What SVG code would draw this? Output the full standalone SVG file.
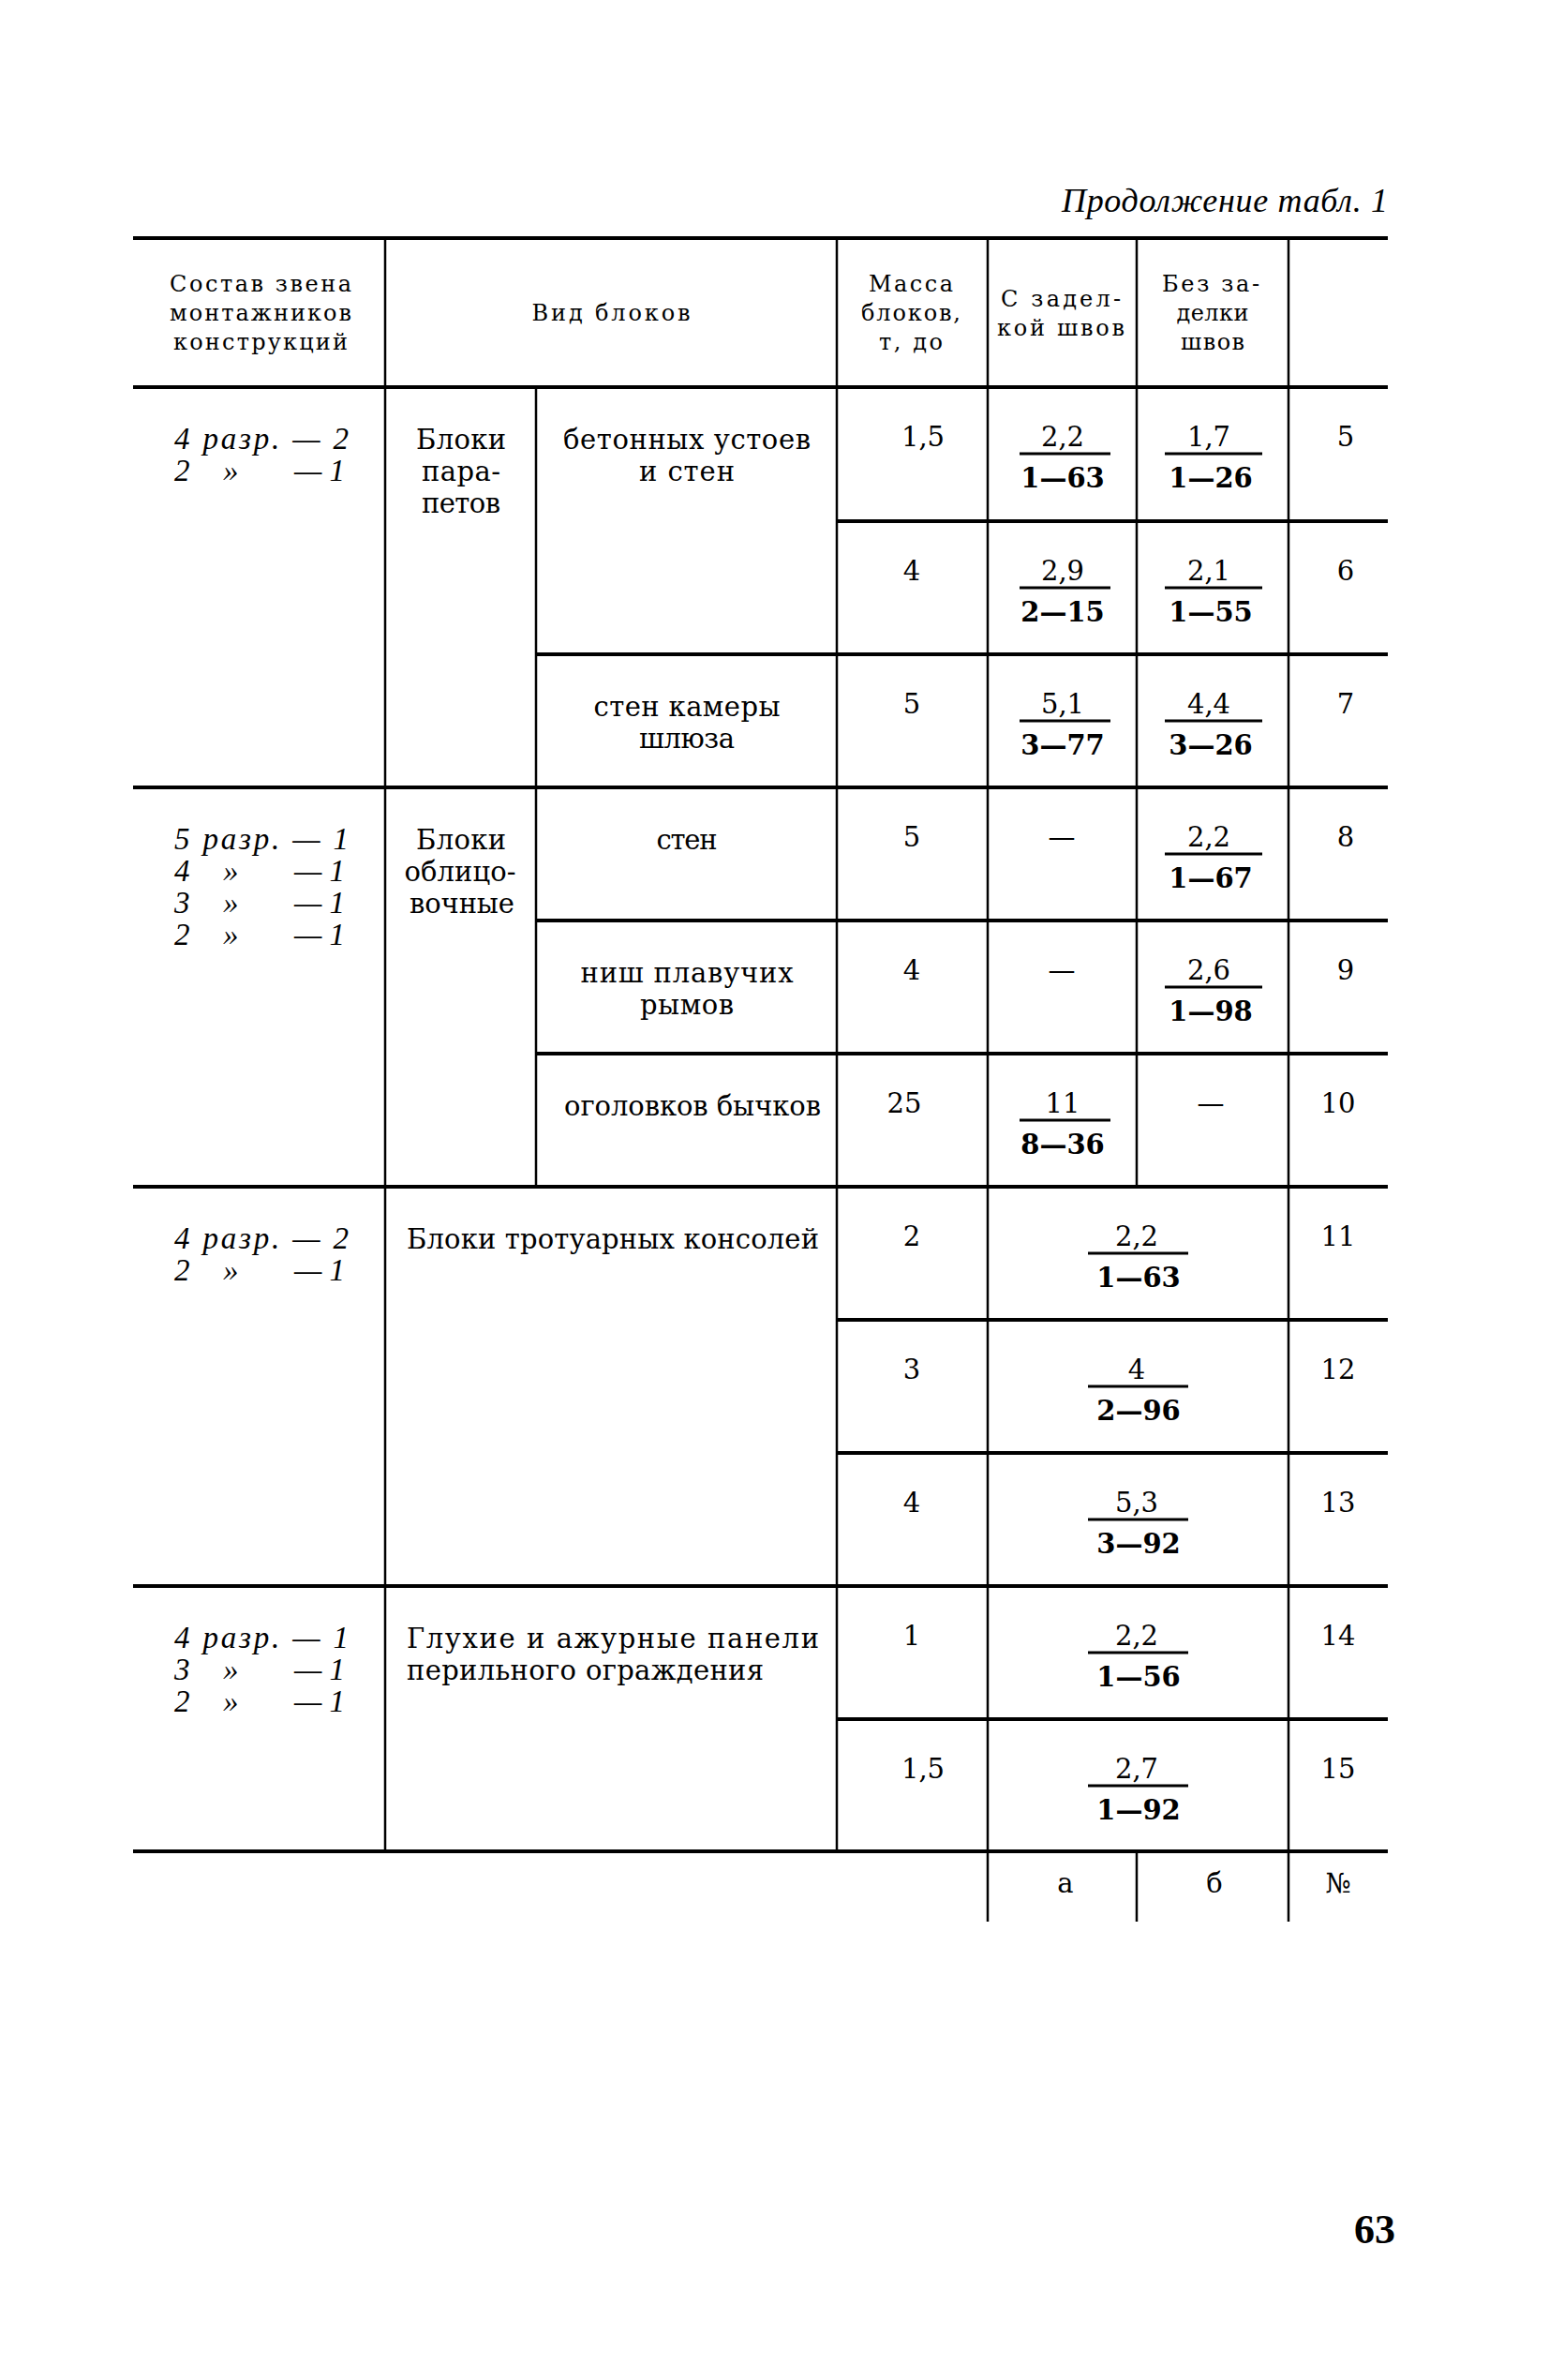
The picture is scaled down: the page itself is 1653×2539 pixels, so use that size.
<svg xmlns="http://www.w3.org/2000/svg" width="1653" height="2539" viewBox="0 0 1653 2539">
<style>
.h{stroke:#000;stroke-width:4;fill:none}
.v{stroke:#000;stroke-width:2.5;fill:none}
.f{stroke:#000;stroke-width:3;fill:none}
text{fill:#000}
.t{font-family:"DejaVu Serif","Liberation Serif",serif;font-size:29px}
.c{text-anchor:middle}
.hd{font-family:"DejaVu Serif","Liberation Serif",serif;font-size:24px;text-anchor:middle}
.it{font-family:"Liberation Serif",serif;font-style:italic;font-size:33px}
.b{font-weight:bold}
</style>
<rect width="1653" height="2539" fill="#fff"/>
<text class="it" x="1481" y="226" text-anchor="end" textLength="348" style="font-size:36px">Продолжение табл. 1</text>

<g id="grid">
<line class="h" x1="142" y1="254" x2="1481" y2="254"/>
<line class="h" x1="142" y1="413" x2="1481" y2="413"/>
<line class="h" x1="893" y1="556" x2="1481" y2="556"/>
<line class="h" x1="572" y1="698" x2="1481" y2="698"/>
<line class="h" x1="142" y1="840" x2="1481" y2="840"/>
<line class="h" x1="572" y1="982" x2="1481" y2="982"/>
<line class="h" x1="572" y1="1124" x2="1481" y2="1124"/>
<line class="h" x1="142" y1="1266" x2="1481" y2="1266"/>
<line class="h" x1="893" y1="1408" x2="1481" y2="1408"/>
<line class="h" x1="893" y1="1550" x2="1481" y2="1550"/>
<line class="h" x1="142" y1="1692" x2="1481" y2="1692"/>
<line class="h" x1="893" y1="1834" x2="1481" y2="1834"/>
<line class="h" x1="142" y1="1975" x2="1481" y2="1975"/>
<line class="v" x1="411" y1="254" x2="411" y2="1975"/>
<line class="v" x1="572" y1="413" x2="572" y2="1266"/>
<line class="v" x1="893" y1="254" x2="893" y2="1975"/>
<line class="v" x1="1054" y1="254" x2="1054" y2="2050"/>
<line class="v" x1="1213" y1="254" x2="1213" y2="1266"/>
<line class="v" x1="1213" y1="1975" x2="1213" y2="2050"/>
<line class="v" x1="1375" y1="254" x2="1375" y2="2050"/>
</g>

<g id="header">
<text class="hd" x="278" y="311" textLength="194">Состав звена</text>
<text class="hd" x="278" y="342" textLength="194">монтажников</text>
<text class="hd" x="278" y="373" textLength="186">конструкций</text>
<text class="hd" x="652" y="342" textLength="169">Вид блоков</text>
<text class="hd" x="972" y="311" textLength="90">Масса</text>
<text class="hd" x="972" y="342" textLength="106">блоков,</text>
<text class="hd" x="972" y="373" textLength="68">т, до</text>
<text class="hd" x="1132" y="327" textLength="128">С задел-</text>
<text class="hd" x="1132" y="358" textLength="136">кой швов</text>
<text class="hd" x="1292" y="311" textLength="104">Без за-</text>
<text class="hd" x="1294" y="342" textLength="77">делки</text>
<text class="hd" x="1294" y="373" textLength="68">швов</text>
</g>

<g id="group-parapet">
<text class="it" x="186" y="479" textLength="186">4 разр. — 2</text>
<text class="it" y="513"><tspan x="186">2</tspan><tspan x="238">»</tspan><tspan x="314">— 1</tspan></text>
<text class="t c" x="492" y="479" textLength="96">Блоки</text>
<text class="t c" x="492" y="513" textLength="84">пара-</text>
<text class="t c" x="492" y="547" textLength="84">петов</text>
<text class="t c" x="733" y="479" textLength="264">бетонных устоев</text>
<text class="t c" x="733" y="513" textLength="102">и стен</text>
<text class="t c" x="733" y="764" textLength="199">стен камеры</text>
<text class="t c" x="733" y="798" textLength="102">шлюза</text>
</g>
<g id="row5">
<text class="t c" x="985" y="476">1,5</text>
<text class="t c" x="1134" y="476">2,2</text>
<line class="f" x1="1088" y1="484" x2="1185" y2="484"/>
<text class="t c b" x="1134" y="520">1—63</text>
<text class="t c" x="1290" y="476">1,7</text>
<line class="f" x1="1243" y1="484" x2="1347" y2="484"/>
<text class="t c b" x="1292" y="520">1—26</text>
<text class="t c" x="1436" y="476">5</text>
</g>
<g id="row6">
<text class="t c" x="973" y="619">4</text>
<text class="t c" x="1134" y="619">2,9</text>
<line class="f" x1="1088" y1="627" x2="1185" y2="627"/>
<text class="t c b" x="1134" y="663">2—15</text>
<text class="t c" x="1290" y="619">2,1</text>
<line class="f" x1="1243" y1="627" x2="1347" y2="627"/>
<text class="t c b" x="1292" y="663">1—55</text>
<text class="t c" x="1436" y="619">6</text>
</g>
<g id="row7">
<text class="t c" x="973" y="761">5</text>
<text class="t c" x="1134" y="761">5,1</text>
<line class="f" x1="1088" y1="769" x2="1185" y2="769"/>
<text class="t c b" x="1134" y="805">3—77</text>
<text class="t c" x="1290" y="761">4,4</text>
<line class="f" x1="1243" y1="769" x2="1347" y2="769"/>
<text class="t c b" x="1292" y="805">3—26</text>
<text class="t c" x="1436" y="761">7</text>
</g>

<g id="group-facing">
<text class="it" x="186" y="906" textLength="186">5 разр. — 1</text>
<text class="it" y="940"><tspan x="186">4</tspan><tspan x="238">»</tspan><tspan x="314">— 1</tspan></text>
<text class="it" y="974"><tspan x="186">3</tspan><tspan x="238">»</tspan><tspan x="314">— 1</tspan></text>
<text class="it" y="1008"><tspan x="186">2</tspan><tspan x="238">»</tspan><tspan x="314">— 1</tspan></text>
<text class="t c" x="492" y="906" textLength="96">Блоки</text>
<text class="t c" x="491" y="940" textLength="119">облицо-</text>
<text class="t c" x="493" y="974" textLength="112">вочные</text>
</g>
<g id="row8">
<text class="t c" x="733" y="906" textLength="65">стен</text>
<text class="t c" x="973" y="903">5</text>
<text class="t c" x="1133" y="903">—</text>
<text class="t c" x="1290" y="903">2,2</text>
<line class="f" x1="1243" y1="911" x2="1347" y2="911"/>
<text class="t c b" x="1292" y="947">1—67</text>
<text class="t c" x="1436" y="903">8</text>
</g>
<g id="row9">
<text class="t c" x="733" y="1048" textLength="227">ниш плавучих</text>
<text class="t c" x="733" y="1082" textLength="100">рымов</text>
<text class="t c" x="973" y="1045">4</text>
<text class="t c" x="1133" y="1045">—</text>
<text class="t c" x="1290" y="1045">2,6</text>
<line class="f" x1="1243" y1="1053" x2="1347" y2="1053"/>
<text class="t c b" x="1292" y="1089">1—98</text>
<text class="t c" x="1436" y="1045">9</text>
</g>
<g id="row10">
<text class="t c" x="739" y="1190" textLength="274">оголовков бычков</text>
<text class="t c" x="965" y="1187">25</text>
<text class="t c" x="1134" y="1187">11</text>
<line class="f" x1="1088" y1="1195" x2="1185" y2="1195"/>
<text class="t c b" x="1134" y="1231">8—36</text>
<text class="t c" x="1292" y="1187">—</text>
<text class="t c" x="1428" y="1187">10</text>
</g>

<g id="group-sidewalk">
<text class="it" x="186" y="1332" textLength="186">4 разр. — 2</text>
<text class="it" y="1366"><tspan x="186">2</tspan><tspan x="238">»</tspan><tspan x="314">— 1</tspan></text>
<text class="t" x="434" y="1332" textLength="440">Блоки тротуарных консолей</text>
</g>
<g id="row11">
<text class="t c" x="973" y="1329">2</text>
<text class="t c" x="1213" y="1329">2,2</text>
<line class="f" x1="1161" y1="1337" x2="1268" y2="1337"/>
<text class="t c b" x="1215" y="1373">1—63</text>
<text class="t c" x="1428" y="1329">11</text>
</g>
<g id="row12">
<text class="t c" x="973" y="1471">3</text>
<text class="t c" x="1213" y="1471">4</text>
<line class="f" x1="1161" y1="1479" x2="1268" y2="1479"/>
<text class="t c b" x="1215" y="1515">2—96</text>
<text class="t c" x="1428" y="1471">12</text>
</g>
<g id="row13">
<text class="t c" x="973" y="1613">4</text>
<text class="t c" x="1213" y="1613">5,3</text>
<line class="f" x1="1161" y1="1621" x2="1268" y2="1621"/>
<text class="t c b" x="1215" y="1657">3—92</text>
<text class="t c" x="1428" y="1613">13</text>
</g>

<g id="group-railing">
<text class="it" x="186" y="1758" textLength="186">4 разр. — 1</text>
<text class="it" y="1792"><tspan x="186">3</tspan><tspan x="238">»</tspan><tspan x="314">— 1</tspan></text>
<text class="it" y="1826"><tspan x="186">2</tspan><tspan x="238">»</tspan><tspan x="314">— 1</tspan></text>
<text class="t" x="434" y="1758" textLength="440">Глухие и ажурные панели</text>
<text class="t" x="434" y="1792" textLength="381">перильного ограждения</text>
</g>
<g id="row14">
<text class="t c" x="973" y="1755">1</text>
<text class="t c" x="1213" y="1755">2,2</text>
<line class="f" x1="1161" y1="1763" x2="1268" y2="1763"/>
<text class="t c b" x="1215" y="1799">1—56</text>
<text class="t c" x="1428" y="1755">14</text>
</g>
<g id="row15">
<text class="t c" x="985" y="1897">1,5</text>
<text class="t c" x="1213" y="1897">2,7</text>
<line class="f" x1="1161" y1="1905" x2="1268" y2="1905"/>
<text class="t c b" x="1215" y="1941">1—92</text>
<text class="t c" x="1428" y="1897">15</text>
</g>

<g id="footer">
<text class="t c" x="1137" y="2019">а</text>
<text class="t c" x="1296" y="2019">б</text>
<text class="t c" x="1428" y="2019">№</text>
</g>
<text x="1467" y="2393" text-anchor="middle" font-family="Liberation Serif, serif" font-weight="bold" font-size="44">63</text>
</svg>
